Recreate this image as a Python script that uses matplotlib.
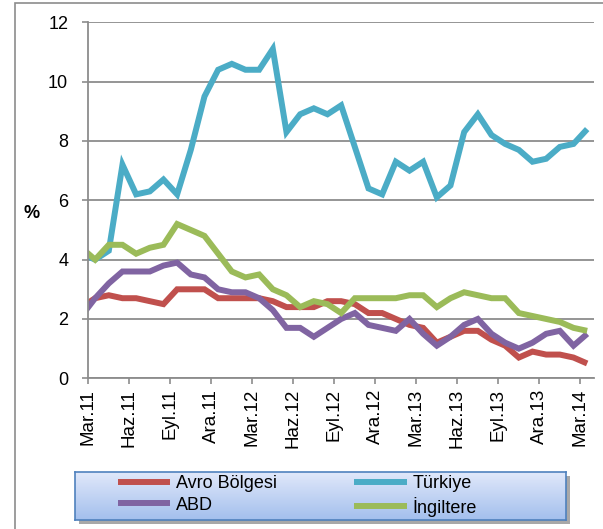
import numpy as np
import matplotlib
matplotlib.use("Agg")
import matplotlib.pyplot as plt
from matplotlib.patches import Rectangle

plt.rcParams['font.family'] = ['Liberation Sans', 'DejaVu Sans']

# monthly data, Şub.11 .. Mar.14 (first month falls just left of the axis)
months = ["Şub.11", "Mar.11", "Nis.11", "May.11", "Haz.11", "Tem.11", "Ağu.11", "Eyl.11",
          "Eki.11", "Kas.11", "Ara.11", "Oca.12", "Şub.12", "Mar.12", "Nis.12", "May.12",
          "Haz.12", "Tem.12", "Ağu.12", "Eyl.12", "Eki.12", "Kas.12", "Ara.12", "Oca.13",
          "Şub.13", "Mar.13", "Nis.13", "May.13", "Haz.13", "Tem.13", "Ağu.13", "Eyl.13",
          "Eki.13", "Kas.13", "Ara.13", "Oca.14", "Şub.14", "Mar.14"]
avro = [2.4, 2.7, 2.8, 2.7, 2.7, 2.6, 2.5, 3.0, 3.0, 3.0, 2.7, 2.7, 2.7, 2.7, 2.6, 2.4,
        2.4, 2.4, 2.6, 2.6, 2.5, 2.2, 2.2, 2.0, 1.8, 1.7, 1.2, 1.4, 1.6, 1.6, 1.3, 1.1,
        0.7, 0.9, 0.8, 0.8, 0.7, 0.5]
turkiye = [4.2, 4.0, 4.3, 7.2, 6.2, 6.3, 6.7, 6.2, 7.7, 9.5, 10.4, 10.6, 10.4, 10.4, 11.1, 8.3,
           8.9, 9.1, 8.9, 9.2, 7.8, 6.4, 6.2, 7.3, 7.0, 7.3, 6.1, 6.5, 8.3, 8.9, 8.2, 7.9,
           7.7, 7.3, 7.4, 7.8, 7.9, 8.4]
abd = [2.1, 2.7, 3.2, 3.6, 3.6, 3.6, 3.8, 3.9, 3.5, 3.4, 3.0, 2.9, 2.9, 2.7, 2.3, 1.7,
       1.7, 1.4, 1.7, 2.0, 2.2, 1.8, 1.7, 1.6, 2.0, 1.5, 1.1, 1.4, 1.8, 2.0, 1.5, 1.2,
       1.0, 1.2, 1.5, 1.6, 1.1, 1.5]
ingiltere = [4.4, 4.0, 4.5, 4.5, 4.2, 4.4, 4.5, 5.2, 5.0, 4.8, 4.2, 3.6, 3.4, 3.5, 3.0, 2.8,
             2.4, 2.6, 2.5, 2.2, 2.7, 2.7, 2.7, 2.7, 2.8, 2.8, 2.4, 2.7, 2.9, 2.8, 2.7, 2.7,
             2.2, 2.1, 2.0, 1.9, 1.7, 1.6]
tick_labels = ["Mar.11", "Haz.11", "Eyl.11", "Ara.11", "Mar.12", "Haz.12", "Eyl.12",
               "Ara.12", "Mar.13", "Haz.13", "Eyl.13", "Ara.13", "Mar.14"]

series = [("Avro Bölgesi", avro, "#C0504D"),
          ("Türkiye", turkiye, "#4BACC6"),
          ("ABD", abd, "#8064A2"),
          ("İngiltere", ingiltere, "#9BBB59")]

W, H = 603, 529
fig = plt.figure(figsize=(W / 100, H / 100), dpi=100)

# outer chart-area frame (cut off at right and bottom)
fig.patches.append(Rectangle((15 / W, -0.1), 1.0, 1.1 - 2.7 / H, transform=fig.transFigure,
                             fill=False, edgecolor="#8c8c8c", lw=1.2, zorder=-1))

ax = fig.add_axes([88.3 / W, 1 - 378.3 / H, (594 - 88.3) / W, (378.3 - 22.3) / H])

# data points sit mid-month; ticks mark month starts
x = np.arange(len(months)) - 0.5
lines = {}
for name, vals, col in series:
    lines[name], = ax.plot(x, vals, color=col, lw=4.3, solid_joinstyle="miter",
                           solid_capstyle="butt", label=name)

ax.set_xlim(0, 37)
ax.set_ylim(0, 12)
ax.set_yticks(np.arange(0, 13, 2))
ax.set_xticks(np.arange(0, 37, 3))
ax.set_xticklabels(tick_labels, rotation=90, fontsize=13.5)
ax.tick_params(axis="y", labelsize=13, length=4.5, width=1.2, color="#8c8c8c", pad=10)
ax.tick_params(axis="x", length=4.5, width=1.2, color="#8c8c8c", pad=3)
ax.grid(axis="y", color="#8c8c8c", lw=1.3)
ax.set_axisbelow(True)
for s in ["top", "right"]:
    ax.spines[s].set_visible(False)
for s in ["left", "bottom"]:
    ax.spines[s].set_color("#8c8c8c")
    ax.spines[s].set_linewidth(1.3)

fig.text(32 / W, 1 - 213 / H, "%", fontsize=13, fontweight="bold", ha="center", va="center")

# legend box with gradient fill and shadow
lx0, ly0, lx1, ly1 = 75, 472, 566, 520
fig.patches.append(Rectangle(((lx0 + 4) / W, 1 - (ly1 + 4) / H), (lx1 - lx0) / W, (ly1 - ly0) / H,
                             transform=fig.transFigure, facecolor="#a8a8a8",
                             edgecolor="none", zorder=1))
lax = fig.add_axes([lx0 / W, 1 - ly1 / H, (lx1 - lx0) / W, (ly1 - ly0) / H])
lax.set_zorder(2)
grad = np.linspace(0, 1, 100).reshape(-1, 1)
top = np.array([0.88, 0.91, 0.98])
bot = np.array([0.64, 0.75, 0.93])
img = top + (bot - top) * grad[:, :, None]
lax.imshow(img, aspect="auto", extent=[0, 1, 0, 1], origin="upper")
lax.set_xticks([])
lax.set_yticks([])
for s in lax.spines.values():
    s.set_color("#4F81BD")
    s.set_linewidth(1.2)

order = ["Avro Bölgesi", "ABD", "Türkiye", "İngiltere"]
leg = lax.legend([lines[n] for n in order], order, ncol=2, loc="center left",
                 bbox_to_anchor=((118 - lx0) / (lx1 - lx0), 0.5), frameon=False,
                 fontsize=13, handlelength=2.9, handletextpad=0.3, columnspacing=4.3,
                 labelspacing=0.25, borderpad=0, borderaxespad=0)

fig.savefig("out.png", dpi=100)
